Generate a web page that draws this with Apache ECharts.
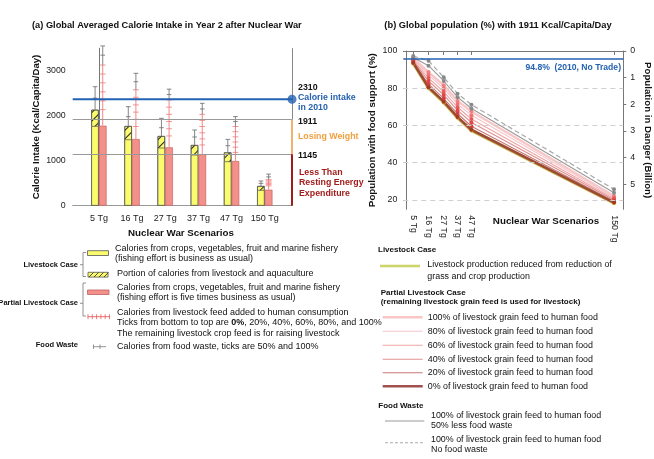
<!DOCTYPE html>
<html>
<head>
<meta charset="utf-8">
<script src="https://cdn.jsdelivr.net/npm/echarts@6/dist/echarts.min.js"></script>
<style>html,body{margin:0;padding:0;background:#fff;}#c{width:654px;height:459px;}</style>
</head>
<body>
<div id="c"></div>
<script>
// ---------- Data: panel (a) ----------
const categories = ['5 Tg', '16 Tg', '27 Tg', '37 Tg', '47 Tg', '150 Tg'];
const livestockBase = [1771, 1474, 1289, 1133, 986, 349];      // crops, vegetables, fruit, fishery
const livestockTotal = [2133, 1771, 1549, 1349, 1185, 438];    // + livestock & aquaculture (hatched)
const partialBase = [1778, 1482, 1297, 1142, 993, 356];        // partial livestock case bars
const wasteLivestock50 = [2390, 1978, 1733, 1527, 1333, 497];
const wasteLivestock100 = [2644, 2200, 1941, 1682, 1474, 549];
const feedTicks0 = [2133, 1760, 1550, 1350, 1185, 440];
const feedTicks20 = [2330, 1920, 1710, 1485, 1300, 468];
const feedTicks40 = [2530, 2080, 1870, 1620, 1415, 496];
const feedTicks60 = [2730, 2240, 2030, 1760, 1530, 524];
const feedTicks80 = [2925, 2410, 2190, 1895, 1645, 552];
const feedTicks100 = [3125, 2575, 2350, 2030, 1760, 580];
const wastePartial50 = [3345, 2755, 2470, 2150, 1870, 640];
const wastePartial100 = [3550, 2942, 2590, 2275, 1980, 702];
const intakeLineDrawn = 2365, intakeLabel = '2310';
const losingWeight = 1911, restingEnergy = 1145;
const yTicksA = [0, 1000, 2000, 3000];

// ---------- Data: panel (b) ----------
const tgValues = [5, 16, 27, 37, 47, 150];
const wasteNone = [97.3, 94.8, 85.9, 77.1, 71.2, 25.7];
const waste50 = [96.5, 92.1, 83.9, 75.2, 69.1, 23.9];
const feed100 = [96.1, 88.7, 81.6, 73.2, 67.5, 22.1];
const feed80 = [95.6, 87.1, 79.9, 71.5, 65.5, 21.4];
const feed60 = [95.1, 85.5, 78.1, 69.8, 63.5, 20.7];
const feed40 = [94.6, 83.9, 76.4, 68.1, 61.6, 20.0];
const feed20 = [94.1, 82.2, 74.6, 66.3, 59.6, 19.3];
const feed0 = [93.6, 80.5, 72.8, 64.5, 57.7, 18.6];
const livestockPop = [93.3, 80.1, 72.4, 64.1, 57.3, 18.3];
const baseline2010Drawn = 95.8, baseline2010Label = '94.8%  (2010, No Trade)';
const yTicksB = [20, 40, 60, 80, 100];

const FONT = '"Liberation Sans", Arial, sans-serif';
const YELLOW = '#fbfb6e', PINK = '#f4908a', BLUE = '#2462b2', ORANGE = '#f0a040', DARKRED = '#a31c1c';

const chart = echarts.init(document.getElementById('c'), null, {renderer: 'canvas'});

const OFF = 0.115;
function zip(xs, ys) { return xs.map((x, i) => [x, ys[i]]); }

function seg(x1, y1, x2, y2, stroke, w, dash) {
  return {type: 'line', shape: {x1, y1, x2, y2}, style: {stroke, lineWidth: w, lineDash: dash || null}};
}

function renderLivestockWaste(params, api) {
  const x = api.value(0);
  const p0 = api.coord([x, api.value(1)]), p1 = api.coord([x, api.value(2)]), p2 = api.coord([x, api.value(3)]);
  const hw = 2.3, c = '#777';
  return {type: 'group', children: [
    seg(p0[0], p0[1], p2[0], p2[1], c, 0.9),
    seg(p1[0] - hw, p1[1], p1[0] + hw, p1[1], c, 0.9),
    seg(p2[0] - hw, p2[1], p2[0] + hw, p2[1], c, 0.9)
  ]};
}
function renderPartialWaste(params, api) {
  const x = api.value(0);
  const base = api.coord([x, api.value(1)]);
  const ticks = [4, 5, 6, 7, 8, 9].map(k => api.coord([x, api.value(k)]));
  const w50 = api.coord([x, api.value(2)]), w100 = api.coord([x, api.value(3)]);
  const red = '#f07a7a', gray = '#777', hr = 2.9, hg = 2.3;
  const ch = [seg(base[0], base[1], ticks[5][0], ticks[5][1], red, 0.9)];
  ticks.forEach(p => ch.push(seg(p[0] - hr, p[1], p[0] + hr, p[1], red, 0.8)));
  ch.push(seg(ticks[5][0], ticks[5][1], w100[0], w100[1], gray, 0.9));
  ch.push(seg(w50[0] - hg, w50[1], w50[0] + hg, w50[1], gray, 0.9));
  ch.push(seg(w100[0] - hg, w100[1], w100[0] + hg, w100[1], gray, 0.9));
  return {type: 'group', children: ch};
}

const lineSeries = [
  {name: 'livestock', data: livestockPop, color: '#cfc060', width: 3.2, sym: '#d8b040'},
  {name: 'feed100', data: feed100, color: '#f9c6c6', width: 2.4, sym: '#f08080'},
  {name: 'feed80', data: feed80, color: '#f3c4cc', width: 1.1, sym: '#ee7070'},
  {name: 'feed60', data: feed60, color: '#f0a4a4', width: 1.1, sym: '#e85a5a'},
  {name: 'feed40', data: feed40, color: '#df9090', width: 1.1, sym: '#e04848'},
  {name: 'feed20', data: feed20, color: '#c87878', width: 1.1, sym: '#d04040'},
  {name: 'feed0', data: feed0, color: '#9c4c32', width: 2.6, sym: '#a03a20'},
  {name: 'waste50', data: waste50, color: '#9a9a9a', width: 1.1, sym: '#888'},
  {name: 'wasteNone', data: wasteNone, color: '#a8a8a8', width: 1.2, sym: '#888', dash: [5, 3]}
].map(s => ({
  type: 'line', name: s.name, xAxisIndex: 1, yAxisIndex: 1, data: zip(tgValues, s.data),
  symbol: 'circle', symbolSize: 4, showSymbol: true, silent: true, animation: false,
  lineStyle: {color: s.color, width: s.width, type: s.dash || 'solid'},
  itemStyle: {color: s.sym}, z: 3
}));

// gridlines and 2010 baseline in panel (b)
lineSeries[0].markLine = {
  silent: true, symbol: 'none', animation: false, label: {show: false},
  data: [20, 40, 60, 80].map(v => ({yAxis: v, lineStyle: {color: '#cfcfcf', type: [5, 4], width: 1}}))
    .concat([{yAxis: baseline2010Drawn, lineStyle: {color: BLUE, type: 'solid', width: 1.6}}])
};

function T(x, y, text, o) {
  o = o || {};
  return {type: 'text', silent: true, z: 10, style: {
    text, x, y, fill: o.fill || '#111', fontSize: o.size || 9, fontWeight: o.bold ? 'bold' : 'normal',
    fontFamily: FONT, align: o.align || 'left', verticalAlign: 'middle', rich: o.rich
  }};
}
function L(x1, y1, x2, y2, stroke, w, dash) {
  return {type: 'line', silent: true, z: 10, shape: {x1, y1, x2, y2}, style: {stroke, lineWidth: w, lineDash: dash || null}};
}
function R(x, y, w, h, fill, stroke) {
  return {type: 'rect', silent: true, z: 10, shape: {x, y, width: w, height: h}, style: {fill, stroke, lineWidth: 0.8}};
}

const graphics = [];
// titles
graphics.push(T(32, 25, '(a) Global Averaged Calorie Intake in Year 2 after Nuclear War', {bold: true, size: 9.25}));
graphics.push(T(498, 25, '(b) Global population (%) with 1911 Kcal/Capita/Day', {bold: true, size: 9.3, align: 'center'}));
// right-side annotations of panel (a)
graphics.push(T(298, 87.5, intakeLabel, {bold: true, size: 8.8}));
graphics.push(T(298, 97.7, 'Calorie intake', {bold: true, size: 8.8, fill: BLUE}));
graphics.push(T(298, 107.9, 'in 2010', {bold: true, size: 8.8, fill: BLUE}));
graphics.push(T(298, 121.7, String(losingWeight), {bold: true, size: 8.8}));
graphics.push(T(298, 136.3, 'Losing Weight', {bold: true, size: 8.8, fill: ORANGE}));
graphics.push(T(298, 155.7, String(restingEnergy), {bold: true, size: 8.8}));
graphics.push(T(299, 172.5, 'Less Than', {bold: true, size: 8.8, fill: DARKRED}));
graphics.push(T(299, 183, 'Resting Energy', {bold: true, size: 8.8, fill: DARKRED}));
graphics.push(T(299, 193.5, 'Expenditure', {bold: true, size: 8.8, fill: DARKRED}));
graphics.push(T(181, 233, 'Nuclear War Scenarios', {bold: true, size: 9.75, align: 'center'}));
graphics.push(T(546, 221.7, 'Nuclear War Scenarios', {bold: true, size: 9.8, align: 'center'}));
graphics.push(T(621, 67.7, baseline2010Label, {bold: true, size: 8.6, fill: BLUE, align: 'right'}));

// left legend
graphics.push(T(78, 264.7, 'Livestock Case', {bold: true, size: 7.5, align: 'right'}));
graphics.push(L(83, 252.5, 83, 276.5, '#777', 0.8), L(83, 252.5, 86, 252.5, '#777', 0.8), L(83, 276.5, 86, 276.5, '#777', 0.8), L(80, 264.7, 83, 264.7, '#777', 0.8));
graphics.push(R(87.5, 250.7, 21, 4.8, YELLOW, '#555'));
graphics.push(T(115, 248.3, 'Calories from crops, vegetables, fruit and marine fishery'));
graphics.push(T(115, 258.5, '(fishing effort is business as usual)'));
graphics.push(R(88, 272.3, 20, 4.8, YELLOW, '#555'));
for (let k = 0; k < 4; k++) graphics.push(L(89 + k * 5, 277, 93.5 + k * 5, 272.5, '#222', 0.8));
graphics.push(T(117, 274, 'Portion of calories from livestock and aquaculture'));
graphics.push(T(78, 303.3, 'Partial Livestock Case', {bold: true, size: 7.5, align: 'right'}));
graphics.push(L(83, 283, 83, 316, '#777', 0.8), L(83, 283, 86, 283, '#777', 0.8), L(83, 316, 86, 316, '#777', 0.8), L(80, 303.3, 83, 303.3, '#777', 0.8));
graphics.push(R(87.5, 290, 21.5, 4.5, PINK, '#c06060'));
graphics.push(T(117, 287.3, 'Calories from crops, vegetables, fruit and marine fishery'));
graphics.push(T(117, 297.7, '(fishing effort is five times business as usual)'));
graphics.push(L(87.5, 316.7, 110, 316.7, '#e86060', 0.9));
for (let k = 0; k < 6; k++) graphics.push(L(88 + k * 4.3, 314.2, 88 + k * 4.3, 319.2, '#e86060', 0.8));
graphics.push(T(117, 312.5, 'Calories from livestock feed added to human consumption'));
graphics.push(T(117, 323, 'Ticks from bottom to top are {b|0%}, 20%, 40%, 60%, 80%, and 100%',
  {rich: {b: {fontWeight: 'bold', fontSize: 9, fontFamily: FONT, fill: '#111'}}}));
graphics.push(T(117, 333.3, 'The remaining livestock crop feed is for raising livestock'));
graphics.push(T(78, 345, 'Food Waste', {bold: true, size: 7.5, align: 'right'}));
graphics.push(L(93, 346.7, 106, 346.7, '#888', 0.9), L(93.5, 344.5, 93.5, 349, '#888', 0.9), L(100, 344.5, 100, 349, '#888', 0.9));
graphics.push(T(117, 346.7, 'Calories from food waste, ticks are 50% and 100%'));

// right legend
graphics.push(T(378, 250, 'Livestock Case', {bold: true, size: 8}));
graphics.push(L(380, 266, 420, 266, '#ccd46a', 2.4));
graphics.push(T(427.3, 265, 'Livestock production reduced from reduction of', {size: 8.9}));
graphics.push(T(427.3, 276.7, 'grass and crop production', {size: 8.9}));
graphics.push(T(380.7, 292.7, 'Partial Livestock Case', {bold: true, size: 8}));
graphics.push(T(380.7, 301.5, '(remaining livestock grain feed is used for livestock)', {bold: true, size: 8}));
const legPartial = [
  ['100% of livestock grain feed to human food', '#f9c6c6', 2.4, 317.3],
  ['80% of livestock grain feed to human food', '#f3c4cc', 1.1, 331.3],
  ['60% of livestock grain feed to human food', '#f0a4a4', 1.1, 345.2],
  ['40% of livestock grain feed to human food', '#df9090', 1.1, 359.3],
  ['20% of livestock grain feed to human food', '#c87878', 1.1, 372.8],
  ['0% of livestock grain feed to human food', '#a05050', 2.6, 386.3]
];
legPartial.forEach(r => {
  graphics.push(L(382.7, r[3], 422.7, r[3], r[1], r[2]));
  graphics.push(T(427.7, r[3], r[0], {size: 8.9}));
});
graphics.push(T(378.3, 405.7, 'Food Waste', {bold: true, size: 8}));
graphics.push(L(385, 421, 424.3, 421, '#999', 1.1));
graphics.push(T(431, 415.7, '100% of livestock grain feed to human food', {size: 8.9}));
graphics.push(T(431, 425.9, '50% less food waste', {size: 8.9}));
graphics.push(L(385, 442.7, 424.3, 442.7, '#aaa', 1.1, [3, 2]));
graphics.push(T(431, 439.3, '100% of livestock grain feed to human food', {size: 8.9}));
graphics.push(T(431, 450, 'No food waste', {size: 8.9}));

const option = {
  animation: false,
  textStyle: {fontFamily: FONT},
  grid: [
    {left: 72.7, right: 362, top: 48.2, bottom: 253.3},
    {left: 403.3, right: 30.7, top: 51, bottom: 249.7}
  ],
  xAxis: [
    {type: 'value', gridIndex: 0, min: -0.79, max: 5.82,
      axisLine: {show: true, lineStyle: {color: '#999', width: 1}}, axisTick: {show: false}, splitLine: {show: false},
      axisLabel: {customValues: [0, 1, 2, 3, 4, 5], formatter: v => categories[Math.round(v)] || '',
        color: '#222', fontSize: 9, margin: 8, fontFamily: FONT}},
    {type: 'value', gridIndex: 1, min: -2.2, max: 156.7,
      axisLine: {show: true, lineStyle: {color: '#777', width: 1}},
      axisTick: {show: true, customValues: tgValues, length: 4, lineStyle: {color: '#777'}},
      splitLine: {show: false},
      axisLabel: {customValues: tgValues, formatter: v => categories[tgValues.indexOf(v)] || '',
        rotate: -90, color: '#222', fontSize: 8.8, margin: 6, fontFamily: FONT}}
  ],
  yAxis: [
    {type: 'value', gridIndex: 0, min: 0, max: 3500, interval: 1000,
      axisLine: {show: true, lineStyle: {color: '#777', width: 1}}, axisTick: {show: false}, splitLine: {show: false},
      axisLabel: {customValues: yTicksA, formatter: v => String(v), color: '#222', fontSize: 8.8, margin: 7, fontFamily: FONT},
      name: 'Calorie Intake (Kcal/Capita/Day)', nameLocation: 'middle', nameGap: 31,
      nameTextStyle: {fontWeight: 'bold', fontSize: 9.6, color: '#111', fontFamily: FONT}},
    {type: 'value', gridIndex: 1, min: 15, max: 100, position: 'left',
      axisLine: {show: true, lineStyle: {color: '#777', width: 1}},
      axisTick: {show: true, customValues: yTicksB, length: 3, inside: false, lineStyle: {color: '#777'}},
      splitLine: {show: false},
      axisLabel: {customValues: yTicksB, formatter: v => String(v), color: '#222', fontSize: 8.8, margin: 6, fontFamily: FONT},
      name: 'Population with food support (%)', nameLocation: 'middle', nameGap: 26.5,
      nameTextStyle: {fontWeight: 'bold', fontSize: 9.8, color: '#111', fontFamily: FONT}},
    {type: 'value', gridIndex: 1, min: 0, max: 5.94, interval: 1, inverse: true, position: 'right',
      axisLine: {show: true, lineStyle: {color: '#777', width: 1}},
      axisTick: {show: true, length: 3, lineStyle: {color: '#777'}},
      splitLine: {show: false},
      axisLabel: {color: '#222', fontSize: 8.8, margin: 7, fontFamily: FONT, showMaxLabel: false},
      name: 'Population in Danger (Billion)', nameLocation: 'middle', nameGap: 19, nameRotate: -90,
      nameTextStyle: {fontWeight: 'bold', fontSize: 9.7, color: '#111', fontFamily: FONT}}
  ],
  series: [
    {type: 'bar', name: 'livestockTotal', xAxisIndex: 0, yAxisIndex: 0, barWidth: 7.5, barGap: '-100%',
      data: livestockTotal.map((v, i) => [i - OFF, v]),
      itemStyle: {color: YELLOW, borderColor: '#555', borderWidth: 0.7,
        decal: {symbol: 'rect', symbolSize: 1, dashArrayX: [1, 0], dashArrayY: [1, 5], rotation: -Math.PI / 4, color: '#222'}}, z: 2,
      markLine: {silent: true, symbol: 'none', label: {show: false}, animation: false,
        data: [
          {yAxis: losingWeight, lineStyle: {color: '#999', width: 1, type: 'solid'}},
          {yAxis: restingEnergy, lineStyle: {color: '#999', width: 1, type: 'solid'}},
          [{coord: [5.82, 3500], lineStyle: {color: '#888', width: 1, type: 'solid'}}, {coord: [5.82, losingWeight]}],
          [{coord: [5.82, losingWeight], lineStyle: {color: '#f4b070', width: 2, type: 'solid'}}, {coord: [5.82, restingEnergy]}],
          [{coord: [5.82, restingEnergy], lineStyle: {color: DARKRED, width: 2, type: 'solid'}}, {coord: [5.82, 0]}]
        ]}},
    {type: 'bar', name: 'livestockBase', xAxisIndex: 0, yAxisIndex: 0, barWidth: 7.5, barGap: '-100%',
      data: livestockBase.map((v, i) => [i - OFF, v]),
      itemStyle: {color: YELLOW, borderColor: '#555', borderWidth: 0.7}, z: 2},
    {type: 'bar', name: 'partial', xAxisIndex: 0, yAxisIndex: 0, barWidth: 7.7, barGap: '-100%',
      data: partialBase.map((v, i) => [i + OFF, v]),
      itemStyle: {color: PINK, borderColor: '#c86464', borderWidth: 0.7}, z: 2},
    {type: 'custom', name: 'wasteLivestock', xAxisIndex: 0, yAxisIndex: 0, renderItem: renderLivestockWaste, z: 3,
      data: livestockTotal.map((v, i) => [i - OFF, v, wasteLivestock50[i], wasteLivestock100[i]]),
      encode: {x: 0, y: [1, 2, 3]}, silent: true},
    {type: 'custom', name: 'wastePartial', xAxisIndex: 0, yAxisIndex: 0, renderItem: renderPartialWaste, z: 3,
      data: partialBase.map((v, i) => [i + OFF, v, wastePartial50[i], wastePartial100[i],
        feedTicks0[i], feedTicks20[i], feedTicks40[i], feedTicks60[i], feedTicks80[i], feedTicks100[i]]),
      encode: {x: 0, y: [1, 2, 3, 4, 5, 6, 7, 8, 9]}, silent: true},
    {type: 'line', name: 'intake2010', xAxisIndex: 0, yAxisIndex: 0, z: 5, silent: true,
      data: [[-0.79, intakeLineDrawn], [5.82, intakeLineDrawn]],
      lineStyle: {color: BLUE, width: 2}, symbol: 'none'},
    {type: 'scatter', name: 'intakeDot', xAxisIndex: 0, yAxisIndex: 0, z: 6, silent: true,
      data: [[5.82, intakeLineDrawn]], symbolSize: 9, itemStyle: {color: BLUE}, clip: false}
  ].concat(lineSeries),
  graphic: graphics
};
chart.setOption(option);
</script>
</body>
</html>
